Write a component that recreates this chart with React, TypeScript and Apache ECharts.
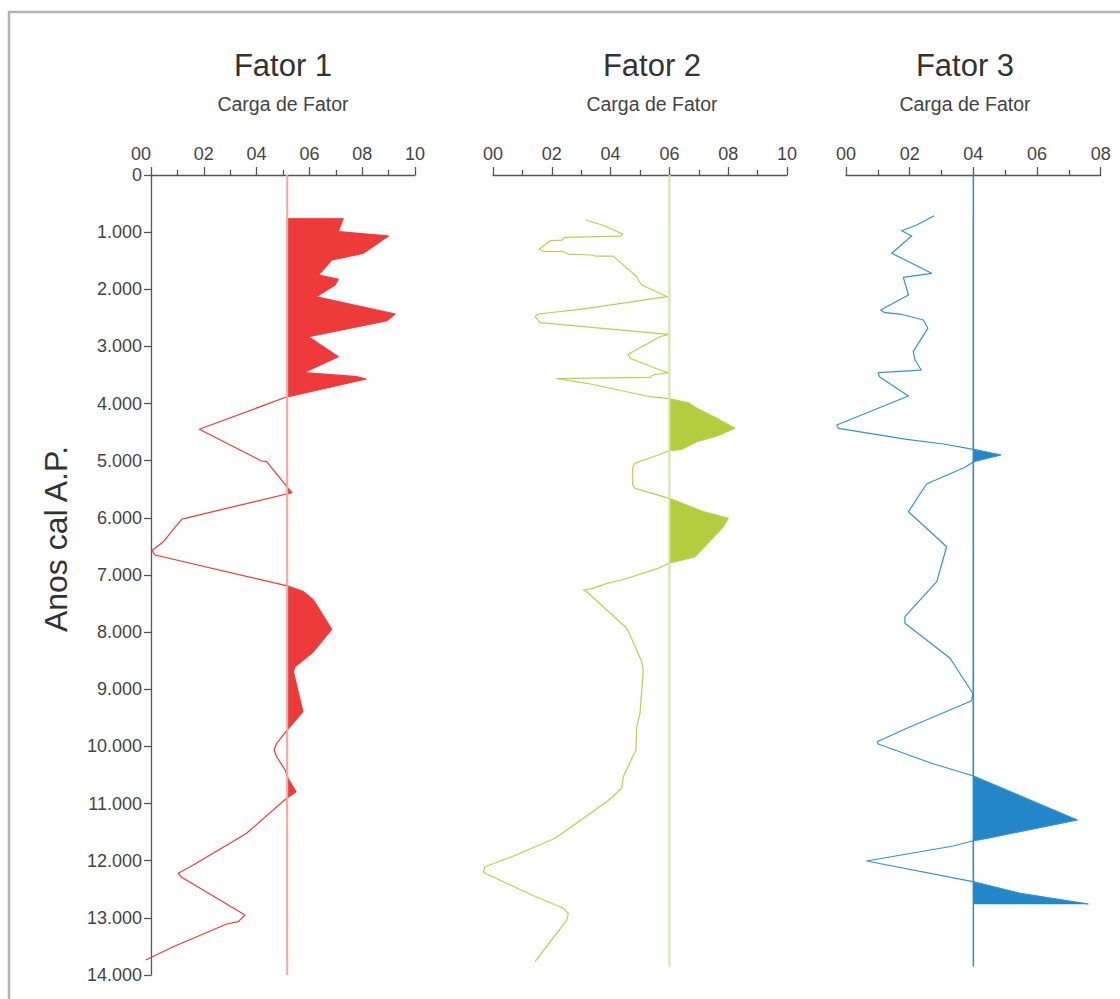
import React, { useEffect, useRef } from "react";
import * as echarts from "echarts";

// ---------- data ----------
const titles = ["Fator 1", "Fator 2", "Fator 3"];
const subtitle = "Carga de Fator";
const yAxisName = "Anos cal A.P.";
const yTickLabels = ["0", "1.000", "2.000", "3.000", "4.000", "5.000", "6.000", "7.000", "8.000", "9.000", "10.000", "11.000", "12.000", "13.000", "14.000"];
const xTickLabels = ["00", "02", "04", "06", "08", "10"];
const xMax = [1.0, 1.0, 0.8];
const thresholds = [0.516, 0.6, 0.4];
const thresholdEnds = [14000, 13850, 13850];

// [carga, anos cal A.P.]
const fator1: [number, number][] = [
  [0.728, 758], [0.709, 992], [0.899, 1068], [0.804, 1370], [0.684, 1488], [0.634, 1750],
  [0.709, 1825], [0.697, 1925], [0.625, 2130], [0.924, 2433], [0.893, 2550], [0.596, 2830],
  [0.709, 3180], [0.577, 3460], [0.779, 3530], [0.814, 3570], [0.51, 3890], [0.183, 4450],
  [0.419, 5005], [0.438, 5017], [0.533, 5560], [0.129, 6008], [0.116, 6025], [0.047, 6417],
  [0.003, 6575], [0.015, 6650], [0.512, 7185], [0.577, 7292], [0.615, 7437], [0.684, 7950],
  [0.615, 8342], [0.545, 8605], [0.539, 8692], [0.575, 9392], [0.516, 9712], [0.476, 9945],
  [0.466, 10062], [0.476, 10180], [0.508, 10412], [0.52, 10570], [0.549, 10792], [0.514, 10908],
  [0.362, 11520], [0.331, 11608], [0.16, 12075], [0.103, 12220], [0.116, 12290], [0.356, 12950],
  [0.331, 13067], [0.287, 13107], [0.084, 13505], [-0.02, 13738],
];

const fator2: [number, number][] = [
  [0.316, 788], [0.381, 893], [0.441, 1033], [0.434, 1068], [0.245, 1090], [0.234, 1138],
  [0.194, 1150], [0.157, 1300], [0.171, 1335], [0.239, 1342], [0.256, 1383], [0.336, 1400],
  [0.347, 1418], [0.409, 1420], [0.489, 1780], [0.494, 1838], [0.506, 1925], [0.593, 2130],
  [0.296, 2350], [0.154, 2433], [0.143, 2480], [0.16, 2585], [0.596, 2788], [0.568, 2830],
  [0.46, 3138], [0.466, 3208], [0.568, 3413], [0.596, 3460], [0.545, 3500], [0.534, 3540],
  [0.217, 3565], [0.319, 3645], [0.534, 3880], [0.599, 3915], [0.664, 3985], [0.693, 4083],
  [0.761, 4258], [0.823, 4433], [0.761, 4568], [0.693, 4667], [0.642, 4800], [0.599, 4825],
  [0.562, 4900], [0.483, 5045], [0.475, 5115], [0.475, 5425], [0.483, 5483], [0.599, 5658],
  [0.715, 5892], [0.8, 6008], [0.783, 6155], [0.687, 6680], [0.599, 6795], [0.562, 6883],
  [0.438, 7088], [0.387, 7146], [0.341, 7233], [0.307, 7263], [0.319, 7292], [0.375, 7555],
  [0.455, 7933], [0.466, 8050], [0.506, 8517], [0.511, 8663], [0.5, 9420], [0.489, 9655],
  [0.486, 10063], [0.443, 10530], [0.438, 10733], [0.387, 10967], [0.347, 11113], [0.251, 11463],
  [0.211, 11608], [0.064, 11930], [-0.027, 12105], [-0.033, 12192], [-0.021, 12232], [0.132, 12600],
  [0.239, 12833], [0.256, 12920], [0.251, 13038], [0.143, 13767],
];

const fator3: [number, number][] = [
  [0.277, 712], [0.222, 875], [0.175, 975], [0.206, 1068], [0.144, 1370], [0.269, 1720],
  [0.18, 1790], [0.196, 2100], [0.109, 2363], [0.122, 2410], [0.17, 2433], [0.243, 2538],
  [0.257, 2683], [0.211, 3092], [0.217, 3238], [0.236, 3413], [0.101, 3460], [0.105, 3530],
  [0.196, 3868], [-0.029, 4375], [-0.024, 4433], [0.191, 4625], [0.306, 4708], [0.4, 4800],
  [0.486, 4900], [0.4, 5017], [0.374, 5115], [0.253, 5408], [0.196, 5892], [0.253, 6183],
  [0.316, 6505], [0.285, 7117], [0.185, 7730], [0.185, 7846], [0.327, 8458], [0.337, 8545],
  [0.398, 9070], [0.395, 9200], [0.191, 9683], [0.098, 9917], [0.101, 9958], [0.264, 10285],
  [0.4, 10518], [0.726, 11288], [0.442, 11608], [0.4, 11650], [0.337, 11743], [0.065, 12005],
  [0.398, 12367], [0.546, 12570], [0.761, 12758],
];

const seriesData = [fator1, fator2, fator3];

// ---------- styles ----------
const FONT = "'Liberation Sans', Arial, Helvetica, sans-serif";
const lineColors = ["#ee3b3b", "#b9d14f", "#3990d4"];
const fillColors = ["#ee3a38", "#b3cd3f", "#2187c8"];
const thrColors = ["#f6a6a6", "#d6e69c", "#2e8bcf"];
const thrWidths = [2, 2, 1.5];
const gridLeft = [151, 493, 846];
const gridWidth = [264, 294, 254.7];
const titleX = [283, 652, 965];
const GRID_TOP = 175;
const GRID_H = 800;
const AXIS_COLOR = "#555";

function clipAbove(pts: [number, number][], T: number): [number, number][] {
  const out: [number, number][] = [];
  out.push([T, pts[0][1]]);
  for (let i = 0; i < pts.length; i++) {
    const [v, d] = pts[i];
    if (i > 0) {
      const [pv, pd] = pts[i - 1];
      if ((pv - T) * (v - T) < 0) {
        const f = (T - pv) / (v - pv);
        out.push([T, pd + f * (d - pd)]);
      }
    }
    out.push([Math.max(v, T), d]);
  }
  out.push([T, pts[pts.length - 1][1]]);
  return out;
}

export default function App() {
  const ref = useRef<HTMLDivElement>(null);

  useEffect(() => {
    if (!ref.current) return;
    const chart = echarts.init(ref.current, undefined, { renderer: "svg" });

    const grids = [0, 1, 2].map((i) => ({
      left: gridLeft[i],
      top: GRID_TOP,
      width: gridWidth[i],
      height: GRID_H,
      containLabel: false,
    }));

    const xAxes = [0, 1, 2].map((i) => ({
      type: "value",
      gridIndex: i,
      position: "top",
      min: 0,
      max: xMax[i],
      interval: 0.2,
      axisLine: { show: true, onZero: false, lineStyle: { color: AXIS_COLOR, width: 1.3 } },
      axisTick: { show: true, length: 8, lineStyle: { color: AXIS_COLOR, width: 1.3 } },
      minorTick: { show: true, splitNumber: 2, length: 5, lineStyle: { color: AXIS_COLOR, width: 1.3 } },
      splitLine: { show: false },
      minorSplitLine: { show: false },
      axisLabel: {
        margin: 12,
        color: "#444",
        fontSize: 18,
        fontFamily: FONT,
        formatter: (v: number) => {
          const lab = xTickLabels[Math.round(v / 0.2)] ?? "";
          if (i === 0 && Math.abs(v) < 1e-9) return "{s|" + lab + "}";
          return lab;
        },
        rich: {
          s: { padding: [0, 20, 0, 0], fontSize: 18, color: "#444", fontFamily: FONT },
        },
      },
    }));

    const yAxes = [0, 1, 2].map((i) => ({
      type: "value",
      gridIndex: i,
      inverse: true,
      min: 0,
      max: 14000,
      interval: 1000,
      show: i === 0,
      axisLine: { show: true, onZero: false, lineStyle: { color: AXIS_COLOR, width: 1.3 } },
      axisTick: { show: true, length: 7, lineStyle: { color: AXIS_COLOR, width: 1.3 } },
      splitLine: { show: false },
      axisLabel: {
        margin: 9,
        color: "#444",
        fontSize: 18,
        fontFamily: FONT,
        formatter: (v: number) => yTickLabels[Math.round(v / 1000)] ?? "",
      },
    }));

    const series: any[] = [];
    [0, 1, 2].forEach((i) => {
      const pts = seriesData[i];
      const T = thresholds[i];
      const poly = clipAbove(pts, T);
      // filled part above threshold
      series.push({
        type: "custom",
        xAxisIndex: i,
        yAxisIndex: i,
        data: poly,
        encode: { x: 0, y: 1 },
        silent: true,
        clip: false,
        z: 1,
        renderItem: (params: any, api: any) => {
          if (params.dataIndex !== 0) return null;
          const points = poly.map((p) => api.coord(p));
          return {
            type: "polygon",
            shape: { points },
            style: { fill: fillColors[i], stroke: fillColors[i], lineWidth: 0.5 },
          };
        },
      });
      // curve
      series.push({
        type: "custom",
        xAxisIndex: i,
        yAxisIndex: i,
        data: pts,
        encode: { x: 0, y: 1 },
        silent: true,
        clip: false,
        z: 3,
        renderItem: (params: any, api: any) => {
          if (params.dataIndex !== 0) return null;
          const points = pts.map((p) => api.coord(p));
          return {
            type: "polyline",
            shape: { points },
            style: { fill: "none", stroke: lineColors[i], lineWidth: 1.2, lineJoin: "round" },
          };
        },
      });
      // threshold line
      series.push({
        type: "line",
        xAxisIndex: i,
        yAxisIndex: i,
        data: [[T, 0], [T, thresholdEnds[i]]],
        symbol: "none",
        clip: false,
        silent: true,
        z: 4,
        lineStyle: { color: thrColors[i], width: thrWidths[i] },
      });
    });

    const graphics: any[] = [
      {
        type: "rect",
        silent: true,
        z: -10,
        shape: { x: 9, y: 12, width: 1400, height: 1400 },
        style: { fill: "none", stroke: "#b3b3b3", lineWidth: 2.5 },
      },
      {
        type: "text",
        x: 56,
        y: 539,
        rotation: Math.PI / 2,
        silent: true,
        style: {
          text: yAxisName,
          textAlign: "center",
          textVerticalAlign: "middle",
          fontSize: 32,
          fontFamily: FONT,
          fill: "#333",
        },
      },
    ];
    [0, 1, 2].forEach((i) => {
      graphics.push({
        type: "text",
        x: titleX[i],
        y: 65,
        silent: true,
        style: {
          text: titles[i],
          textAlign: "center",
          textVerticalAlign: "middle",
          fontSize: 31,
          fontFamily: FONT,
          fill: "#333",
        },
      });
      graphics.push({
        type: "text",
        x: titleX[i],
        y: 104,
        silent: true,
        style: {
          text: subtitle,
          textAlign: "center",
          textVerticalAlign: "middle",
          fontSize: 19.5,
          fontFamily: FONT,
          fill: "#444",
        },
      });
    });

    chart.setOption({
      animation: false,
      backgroundColor: "#fff",
      grid: grids,
      xAxis: xAxes,
      yAxis: yAxes,
      series,
      graphic: graphics,
    });

    return () => chart.dispose();
  }, []);

  return (
    <div
      ref={ref}
      style={{ position: "absolute", left: 0, top: 0, width: 1120, height: 999 }}
    />
  );
}
